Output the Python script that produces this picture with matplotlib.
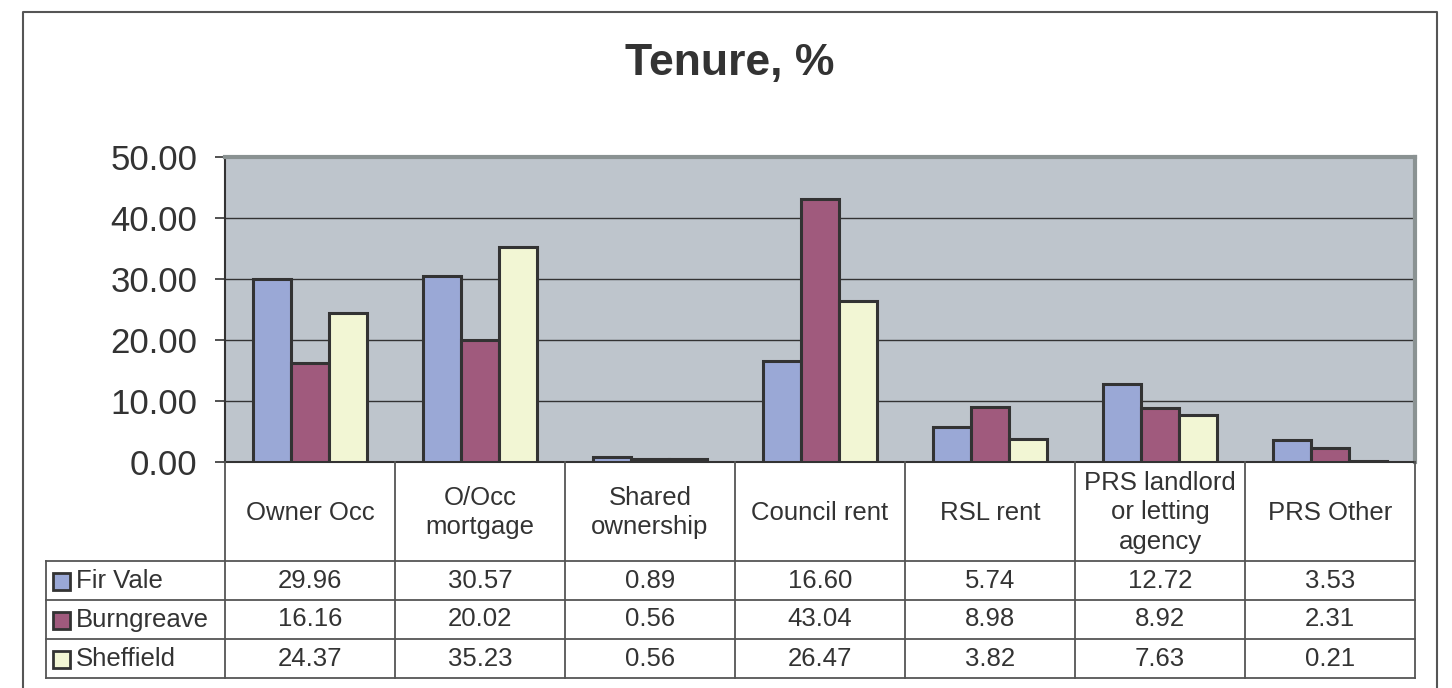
import matplotlib
matplotlib.use('Agg')
import matplotlib.pyplot as plt
import numpy as np

plt.rcParams['font.family'] = ['Liberation Sans', 'DejaVu Sans']

# data
categories = ['Owner Occ', 'O/Occ\nmortgage', 'Shared\nownership', 'Council rent',
              'RSL rent', 'PRS landlord\nor letting\nagency', 'PRS Other']
series = ['Fir Vale', 'Burngreave', 'Sheffield']
fir_vale = [29.96, 30.57, 0.89, 16.60, 5.74, 12.72, 3.53]
burngreave = [16.16, 20.02, 0.56, 43.04, 8.98, 8.92, 2.31]
sheffield = [24.37, 35.23, 0.56, 26.47, 3.82, 7.63, 0.21]
values = [fir_vale, burngreave, sheffield]
colors = ['#9aa8d6', '#a05a7d', '#f2f6d4']
yticks = [0, 10, 20, 30, 40, 50]

W, H = 1452, 688
txt = '#333333'
line_c = '#555555'

fig = plt.figure(figsize=(W / 100, H / 100), dpi=100)

# plot area in pixel coords
px_l, px_r, px_t, px_b = 225, 1415, 157, 462
ax = fig.add_axes([px_l / W, 1 - px_b / H, (px_r - px_l) / W, (px_b - px_t) / H])
ax.set_facecolor('#bec5cc')

x = np.arange(len(categories))
bw = 0.224
for i, (name, vals) in enumerate(zip(series, values)):
    ax.bar(x + (i - 1) * bw, vals, width=bw, color=colors[i], edgecolor='#333333',
           linewidth=2.2, zorder=3)

ax.set_xlim(-0.5, len(categories) - 0.5)
ax.set_ylim(0, 50)
ax.set_yticks(yticks)
ax.set_yticklabels(['%.2f' % v for v in yticks], fontsize=25, color=txt)
ax.tick_params(axis='y', direction='out', length=7, width=1.2, color='#333333', pad=13)
ax.set_xticks([])
for v in yticks[1:-1]:
    ax.axhline(v, color='#333333', linewidth=1.0, zorder=1)
ax.spines['left'].set_color('#333333')
ax.spines['left'].set_linewidth(1.5)
ax.spines['bottom'].set_color('#333333')
ax.spines['bottom'].set_linewidth(1.5)
ax.spines['top'].set_color('#8a9292')
ax.spines['top'].set_linewidth(3)
ax.spines['right'].set_color('#8a9292')
ax.spines['right'].set_linewidth(3)

# overlay for frame, title and data table (pixel coords)
ov = fig.add_axes([0, 0, 1, 1], zorder=-1)
ov.set_xlim(0, W)
ov.set_ylim(H, 0)
ov.axis('off')

# outer frame
ov.plot([23, 23, 1437, 1437], [H + 5, 12, 12, H + 5], color='#555555', linewidth=1.5)

ov.text(730, 63, 'Tenure, %', fontsize=32, fontweight='bold', color=txt,
        ha='center', va='center')

# table
col_w = (px_r - px_l) / len(categories)
hdr_b = 561
row_h = 39
tab_l = 46
rows_b = hdr_b + row_h * len(series)
ov2 = fig.add_axes([0, 0, 1, 1], zorder=5)
ov2.set_xlim(0, W)
ov2.set_ylim(H, 0)
ov2.axis('off')
lw = 1.3
for j in range(len(categories) + 1):
    xx = px_l + j * col_w
    ov2.plot([xx, xx], [px_b, rows_b], color=line_c, linewidth=lw)
ov2.plot([tab_l, tab_l], [hdr_b, rows_b], color=line_c, linewidth=lw)
for r in range(len(series) + 1):
    yy = hdr_b + r * row_h
    ov2.plot([tab_l, px_r], [yy, yy], color=line_c, linewidth=lw)

fs = 18.5
for j, cat in enumerate(categories):
    cx = px_l + (j + 0.5) * col_w
    ov2.text(cx, (px_b + hdr_b) / 2 + 1, cat, fontsize=fs, color=txt,
             ha='center', va='center', linespacing=1.28)
    for i in range(len(series)):
        cy = hdr_b + (i + 0.5) * row_h
        ov2.text(cx, cy, '%.2f' % values[i][j], fontsize=fs, color=txt,
                 ha='center', va='center')

for i, name in enumerate(series):
    cy = hdr_b + (i + 0.5) * row_h
    ov2.add_patch(plt.Rectangle((52.5, cy - 8), 17, 17, facecolor=colors[i],
                                edgecolor='#333333', linewidth=2))
    ov2.text(76, cy + 1, name, fontsize=fs, color=txt, ha='left', va='center')

fig.savefig('out.png', dpi=100)
